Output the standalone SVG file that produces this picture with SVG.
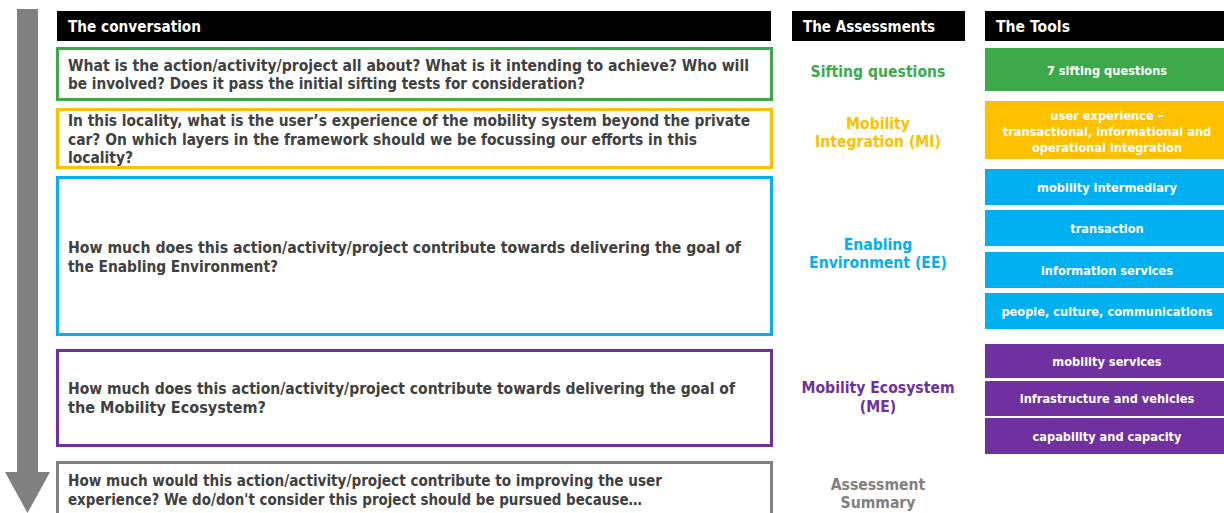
<svg xmlns="http://www.w3.org/2000/svg" width="1224" height="513" viewBox="0 0 1224 513">
<style>
text{font-family:"DejaVu Sans Condensed","DejaVu Sans",sans-serif;font-weight:bold}
.hdr{fill:#000}
.ht{fill:#fff;font-size:15.5px}
.q{fill:#404040;font-size:15px}
.box{fill:#fff;stroke-width:3}
.as{font-size:15.6px;text-anchor:middle}
.tl{fill:#fff;font-size:12.7px;text-anchor:middle}
.g{fill:#3DAA4A}.o{fill:#FFC000}.b{fill:#00B0F0}.p{fill:#7030A0}.gr{fill:#808080}
</style>
<g id="flow-arrow">
<rect x="17" y="9" width="21" height="464" fill="#808080"/>
<polygon points="5,472 50,472 27.5,513" fill="#808080"/>
</g>
<g id="headers">
<rect class="hdr" x="57" y="11" width="714" height="30"/>
<text class="ht" x="68" y="32" textLength="133" lengthAdjust="spacingAndGlyphs">The conversation</text>
<rect class="hdr" x="792" y="11" width="173" height="30"/>
<text class="ht" x="803" y="32" textLength="132" lengthAdjust="spacingAndGlyphs">The Assessments</text>
<rect class="hdr" x="985" y="11" width="239" height="30"/>
<text class="ht" x="996" y="32" textLength="74" lengthAdjust="spacingAndGlyphs">The Tools</text>
</g>
<g id="q-sifting">
<rect class="box" x="57.5" y="48.5" width="714" height="51" stroke="#3DAA4A"/>
<text class="q" x="68" y="71" textLength="681" lengthAdjust="spacingAndGlyphs">What is the action/activity/project all about? What is it intending to achieve? Who will</text>
<text class="q" x="68" y="89" textLength="517" lengthAdjust="spacingAndGlyphs">be involved? Does it pass the initial sifting tests for consideration?</text>
</g>
<g id="q-mi">
<rect class="box" x="57.5" y="109.5" width="714" height="58" stroke="#FFC000"/>
<text class="q" x="68" y="126" textLength="682" lengthAdjust="spacingAndGlyphs">In this locality, what is the user’s experience of the mobility system beyond the private</text>
<text class="q" x="68" y="145" textLength="629" lengthAdjust="spacingAndGlyphs">car? On which layers in the framework should we be focussing our efforts in this</text>
<text class="q" x="68" y="163" textLength="65" lengthAdjust="spacingAndGlyphs">locality?</text>
</g>
<g id="q-ee">
<rect class="box" x="57.5" y="177.5" width="714" height="157" stroke="#00B0F0"/>
<text class="q" x="68" y="253" textLength="673" lengthAdjust="spacingAndGlyphs">How much does this action/activity/project contribute towards delivering the goal of</text>
<text class="q" x="68" y="272" textLength="210" lengthAdjust="spacingAndGlyphs">the Enabling Environment?</text>
</g>
<g id="q-me">
<rect class="box" x="57.5" y="350.5" width="714" height="95" stroke="#7030A0"/>
<text class="q" x="68" y="394" textLength="667" lengthAdjust="spacingAndGlyphs">How much does this action/activity/project contribute towards delivering the goal of</text>
<text class="q" x="68" y="413" textLength="198" lengthAdjust="spacingAndGlyphs">the Mobility Ecosystem?</text>
</g>
<g id="q-summary">
<rect class="box" x="57.5" y="462.5" width="714" height="60" stroke="#808080"/>
<text class="q" x="68" y="486" textLength="594" lengthAdjust="spacingAndGlyphs">How much would this action/activity/project contribute to improving the user</text>
<text class="q" x="68" y="505" textLength="574" lengthAdjust="spacingAndGlyphs">experience? We do/don't consider this project should be pursued because…</text>
</g>
<g id="assess-sifting"><text class="as g" x="878" y="77">Sifting questions</text></g>
<g id="assess-mi"><text class="as o" x="878" y="129">Mobility</text><text class="as o" x="878" y="147">Integration (MI)</text></g>
<g id="assess-ee"><text class="as b" x="878" y="250">Enabling</text><text class="as b" x="878" y="268">Environment (EE)</text></g>
<g id="assess-me"><text class="as p" x="878" y="393">Mobility Ecosystem</text><text class="as p" x="878" y="412">(ME)</text></g>
<g id="assess-summary"><text class="as gr" x="878" y="490">Assessment</text><text class="as gr" x="878" y="508">Summary</text></g>
<g id="tool-sifting"><rect class="g" x="985" y="48" width="239" height="43"/><text class="tl" x="1107" y="75">7 sifting questions</text></g>
<g id="tool-ux"><rect class="o" x="985" y="101" width="239" height="58"/>
<text class="tl" x="1107" y="120">user experience –</text>
<text class="tl" x="1107" y="136">transactional, informational and</text>
<text class="tl" x="1107" y="152">operational integration</text></g>
<g id="tool-intermediary"><rect class="b" x="985" y="169" width="239" height="36"/><text class="tl" x="1107" y="192">mobility intermediary</text></g>
<g id="tool-transaction"><rect class="b" x="985" y="210" width="239" height="36"/><text class="tl" x="1107" y="233">transaction</text></g>
<g id="tool-info"><rect class="b" x="985" y="252" width="239" height="36"/><text class="tl" x="1107" y="275">information services</text></g>
<g id="tool-people"><rect class="b" x="985" y="293" width="239" height="36"/><text class="tl" x="1107" y="316">people, culture, communications</text></g>
<g id="tool-mobservices"><rect class="p" x="985" y="344" width="239" height="34"/><text class="tl" x="1107" y="366">mobility services</text></g>
<g id="tool-infra"><rect class="p" x="985" y="381" width="239" height="35"/><text class="tl" x="1107" y="403">infrastructure and vehicles</text></g>
<g id="tool-capability"><rect class="p" x="985" y="418" width="239" height="36"/><text class="tl" x="1107" y="441">capability and capacity</text></g>
</svg>
